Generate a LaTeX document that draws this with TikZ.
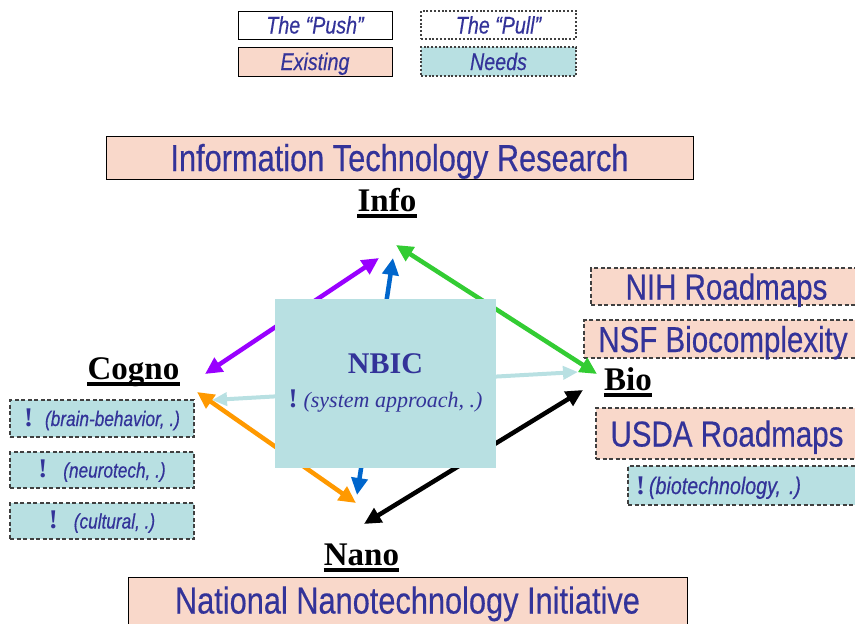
\documentclass[tikz,border=0pt]{standalone}
\usepackage{fontspec}
\setmainfont{Liberation Serif}
\newfontfamily\nar{Liberation Sans}[FakeStretch=0.82, FakeBold=0.4]
\usetikzlibrary{arrows.meta}
\definecolor{salmon}{HTML}{F9D8CA}
\definecolor{cyanb}{HTML}{B8E0E2}
\definecolor{tblue}{HTML}{333399}
\definecolor{apurple}{HTML}{9900FF}
\definecolor{ablue}{HTML}{0066CC}
\definecolor{agreen}{HTML}{33CC33}
\definecolor{aorange}{HTML}{FF9900}
\newcommand{\bang}{{\rmfamily\bfseries\upshape\fontsize{27}{27}\selectfont !}}
\tikzset{
  box/.style={inner sep=0pt, outer sep=0pt, text=tblue},
  solidbox/.style={box, draw=black, line width=1pt},
  dashbox/.style={box, draw=black!75, dash pattern=on 4pt off 2.5pt, line width=1.1pt},
  dotbox/.style={box, draw=black!75, dash pattern=on 2pt off 1.8pt, line width=1.1pt},
  exist/.style={fill=salmon},
  need/.style={fill=cyanb},
  legtxt/.style={font=\nar\itshape\fontsize{24}{26}\selectfont, text height=17pt, text depth=0pt},
  bigtxt/.style={font=\nar\fontsize{36}{40}\selectfont, text height=26pt, text depth=0pt},
  widetxt/.style={font=\nar\fontsize{37.5}{40}\selectfont, text height=27pt, text depth=0pt},
  smalltxt/.style={font=\nar\itshape\fontsize{21}{24}\selectfont, text height=15pt, text depth=0pt},
  lbl/.style={font=\rmfamily\bfseries\fontsize{33}{36}\selectfont, inner sep=0pt, anchor=base},
  ul/.style={line width=3.2pt},
  arr/.style={line width=4.5pt, {Triangle[length=17pt,width=16pt]}-{Triangle[length=17pt,width=16pt]}},
  larr/.style={line width=4pt, cyanb, -{Triangle[length=15pt,width=13pt]}},
}
\begin{document}
\begin{tikzpicture}[x=1pt,y=-1pt]
\useasboundingbox (0,0) rectangle (855,624);
\clip (0,0) rectangle (855,624);

% legend
\node[solidbox, legtxt, minimum width=154pt, minimum height=28pt] (push) at (315,25) {The “Push”};
\node[dotbox, legtxt, minimum width=155pt, minimum height=28pt] (pull) at (498.5,25) {The “Pull”};
\node[solidbox, exist, legtxt, minimum width=154pt, minimum height=29pt] (existing) at (315,61.5) {Existing};
\node[dotbox, need, legtxt, minimum width=155pt, minimum height=29pt] (needs) at (498.5,61.5) {Needs};

% big boxes
\node[solidbox, exist, widetxt, minimum width=587pt, minimum height=43pt] (itr) at (399.5,157.5) {Information Technology Research};
\node[solidbox, exist, widetxt, text depth=10pt, minimum width=559pt, minimum height=56pt] (nni) at (407.5,605) {National Nanotechnology Initiative};

\node[dashbox, exist, bigtxt, minimum width=271pt, minimum height=37pt] (nih) at (726.5,286.5) {NIH Roadmaps};
\node[dashbox, exist, bigtxt, minimum width=278pt, minimum height=38pt] (nsf) at (723,339) {NSF Biocomplexity};
\node[dashbox, exist, bigtxt, minimum width=262pt, minimum height=51pt] (usda) at (727,433.5) {USDA Roadmaps};
\node[dashbox, need, font=\nar\itshape\fontsize{24}{26}\selectfont, text height=17pt, text depth=0pt, anchor=west, text width=224pt, align=left, inner xsep=8pt, minimum height=39pt] (biot) at (628,485.5) {\bang\,(biotechnology, .)};

\node[dashbox, need, smalltxt, minimum width=184pt, minimum height=37pt] (brain) at (102,418.5) {\bang\hspace{12pt}(brain-behavior, .)};
\node[dashbox, need, smalltxt, minimum width=184pt, minimum height=36pt] (neuro) at (102,470) {\bang\hspace{16pt}(neurotech, .)};
\node[dashbox, need, smalltxt, minimum width=184pt, minimum height=36pt] (cult) at (102,521) {\bang\hspace{16pt}(cultural, .)};

% arrow end points
\coordinate (p1) at (205,374);
\coordinate (p2) at (379,258);
\coordinate (b1) at (393,258);
\coordinate (b2) at (357,495);
\coordinate (g1) at (396,245);
\coordinate (g2) at (597,374);
\coordinate (o1) at (197,392);
\coordinate (o2) at (356,503);
\coordinate (k1) at (364,524);
\coordinate (k2) at (583,390);
\coordinate (lc) at (212,400);
\coordinate (rc) at (578,372);
\coordinate (lcs) at (300,395);
\coordinate (rcs) at (470,378);

\draw[arr, apurple] (p1) -- (p2);
\draw[arr, ablue] (b1) -- (b2);
\draw[arr, agreen] (g1) -- (g2);
\draw[arr, aorange] (o1) -- (o2);
\draw[arr, black] (k1) -- (k2);
\draw[larr] (lcs) -- (lc);
\draw[larr] (rcs) -- (rc);

% NBIC box
\node[box, fill=cyanb, minimum width=221pt, minimum height=169pt, align=center] (nbic) at (385.5,383)
  {{\rmfamily\bfseries\fontsize{30}{36}\selectfont NBIC}\\[15pt]
   \bang\hspace{6pt}{\rmfamily\itshape\fontsize{22}{26}\selectfont (system approach, .)}};

% labels
\node[lbl] (info) at (387,211) {Info};
\draw[ul] ([yshift=-5pt]info.base west) -- ([yshift=-5pt]info.base east);
\node[lbl] (cogno) at (133.5,379) {Cogno};
\draw[ul] ([yshift=-5pt]cogno.base west) -- ([yshift=-5pt]cogno.base east);
\node[lbl] (bio) at (628,390) {Bio};
\draw[ul] ([yshift=-5pt]bio.base west) -- ([yshift=-5pt]bio.base east);
\node[lbl] (nano) at (361.5,565) {Nano};
\draw[ul] ([yshift=-5pt]nano.base west) -- ([yshift=-5pt]nano.base east);
\end{tikzpicture}
\end{document}
